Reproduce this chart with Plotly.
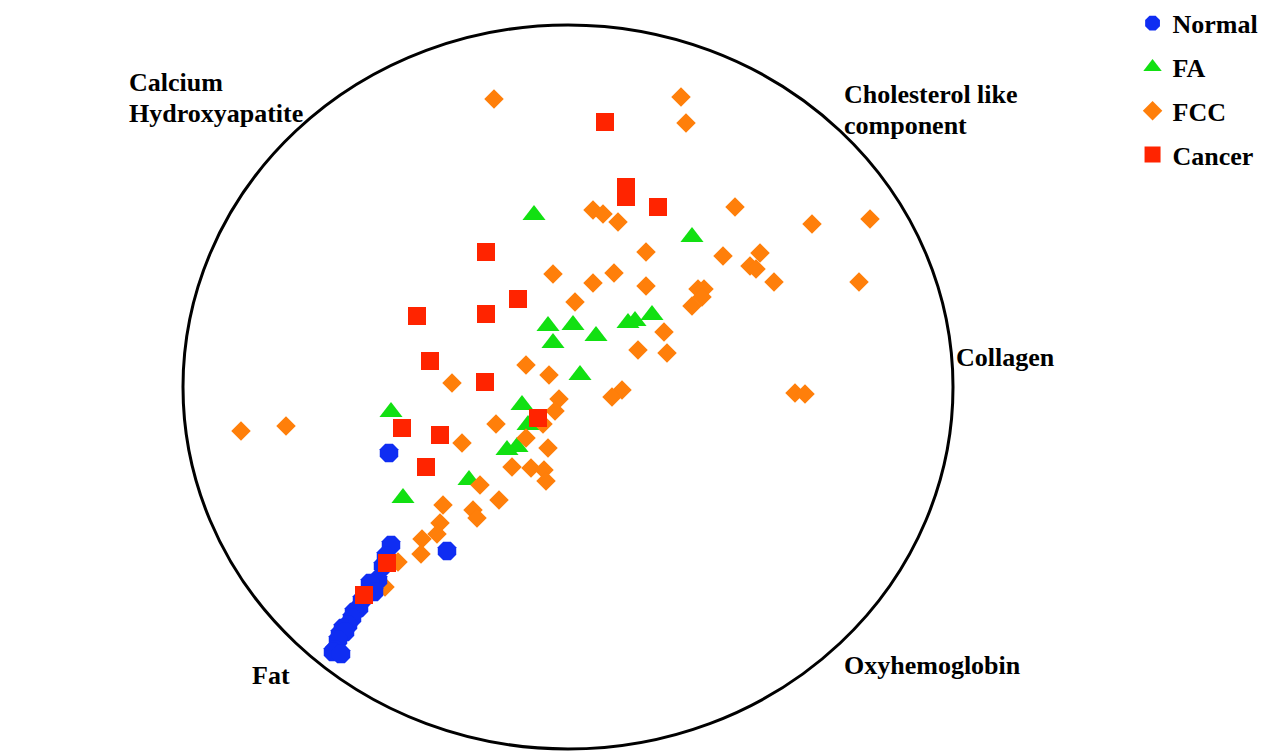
import plotly.graph_objects as go

# Positions (chart units: x to the right, y downward)
normal_x = [389, 447, 391, 386, 383, 378, 370, 374, 366, 362, 359, 354, 352, 348, 343, 340, 345, 338, 335, 333, 341]
normal_y = [453, 551, 545, 556, 566, 580, 583, 592, 595, 600, 608, 612, 618, 625, 628, 634, 632, 640, 650, 652, 654]

fa_x = [534, 692, 548, 573, 553, 596, 628, 635, 652, 580, 522, 528, 507, 517, 469, 391, 403]
fa_y = [215, 237, 326, 325, 343, 336, 323, 321, 315, 375, 405, 425, 450, 447, 480, 412, 498]

fcc_x = [494, 681, 686,
         593, 603, 618, 735, 812, 870,
         646, 723, 760, 750, 756, 774, 859,
         553, 614, 593, 646, 698, 704, 702, 692, 575,
         664, 638, 667,
         526, 549, 452,
         622, 612, 795, 805,
         559, 555, 543, 496, 526, 548, 462,
         512, 531, 544, 546, 480, 499, 443,
         473, 477, 440, 437, 422, 421, 398, 385,
         241, 286]
fcc_y = [99, 97, 123,
         210, 214, 222, 207, 224, 219,
         252, 256, 253, 266, 269, 282, 282,
         274, 273, 283, 286, 289, 289, 297, 306, 302,
         332, 350, 353,
         365, 375, 383,
         390, 397, 393, 394,
         399, 411, 424, 424, 438, 448, 443,
         467, 468, 470, 481, 485, 500, 505,
         510, 518, 523, 534, 539, 554, 562, 587,
         431, 426]

cancer_x = [605, 626, 626, 658, 486, 518, 486, 417, 430, 485, 402, 440, 426, 538, 387, 364]
cancer_y = [122, 187, 197, 207, 252, 299, 314, 316, 361, 382, 428, 435, 467, 418, 563, 595]

# Circle boundary (chart units)
circle_x = [183, 953]
circle_y = [25, 749]

# Anchor labels, one entry per text line: text, x, y
label_text = ["Calcium", "Hydroxyapatite", "Cholesterol like", "component",
              "Epithelial", "Cell Cytoplasm", "Collagen", "Fat", "Oxyhemoglobin"]
label_x = [127, 127, 842, 842, 7, 7, 954, 250, 842]
label_y = [82, 113, 94, 125, 357, 388, 357, 675, 665]

FONT = "Liberation Serif"
colors = {"Normal": "#0F2DF2", "FA": "#12E012", "FCC": "#FF7F0A", "Cancer": "#FF2400"}

fig = go.Figure()

def add(name, xs, ys, symbol, size, rank):
    fig.add_trace(go.Scatter(
        x=xs, y=ys, mode="markers", name=name, legendgroup=name, legendrank=rank,
        marker=dict(symbol=symbol, size=size, color=colors[name], line=dict(width=0)),
    ))

add("FA", fa_x, fa_y, "triangle-up", 20, 2)
add("FCC", fcc_x, fcc_y, "diamond", 15, 3)
add("Normal", normal_x, normal_y, "octagon", 20, 1)
add("Cancer", cancer_x, cancer_y, "square", 18, 4)

fig.add_shape(type="circle", xref="x", yref="y",
              x0=circle_x[0], x1=circle_x[1], y0=circle_y[0], y1=circle_y[1],
              line=dict(color="black", width=3), layer="below")

for t, ax, ay in zip(label_text, label_x, label_y):
    fig.add_annotation(x=ax, y=ay, xref="x", yref="y", text="<b>" + t + "</b>",
                       showarrow=False, xanchor="left", yanchor="middle", align="left",
                       font=dict(family=FONT, size=26, color="black"))

# The page body adds an 8px offset; the axis ranges absorb it
OFFSET = 8
fig.update_layout(
    width=1275, height=752,
    margin=dict(l=0, r=0, t=0, b=0, autoexpand=False),
    paper_bgcolor="white", plot_bgcolor="white",
    xaxis=dict(range=[OFFSET, 1275 + OFFSET], visible=False, fixedrange=True),
    yaxis=dict(range=[752 + OFFSET, OFFSET], visible=False, fixedrange=True),
    showlegend=True,
    legend=dict(x=0.882, y=1.011, xanchor="left", yanchor="top",
                font=dict(family=FONT, size=26, color="black", weight="bold"),
                tracegroupgap=7, bgcolor="rgba(0,0,0,0)", itemsizing="trace"),
)

fig.write_html("out.html")
